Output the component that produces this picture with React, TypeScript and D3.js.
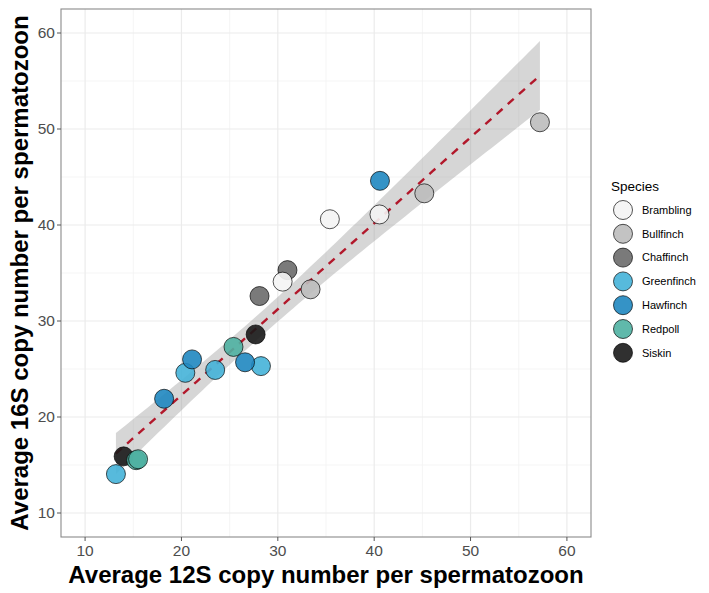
import React from 'react';
import * as d3 from 'd3';

// species order used by the legend and colour scale
const species = ['Brambling', 'Bullfinch', 'Chaffinch', 'Greenfinch', 'Hawfinch', 'Redpoll', 'Siskin'];
const speciesColors = ['#F4F4F4', '#BDBDBD', '#6B6B6B', '#45B2D8', '#1F87C0', '#4FB1A2', '#1A1A1A'];

// per-sample averages: 12S (x) and 16S (y) copy numbers
const sampleSpecies = [
  'Greenfinch', 'Greenfinch', 'Greenfinch', 'Greenfinch',
  'Siskin', 'Siskin',
  'Redpoll', 'Redpoll', 'Redpoll',
  'Hawfinch', 'Hawfinch', 'Hawfinch', 'Hawfinch',
  'Chaffinch', 'Chaffinch',
  'Brambling', 'Brambling', 'Brambling',
  'Bullfinch', 'Bullfinch', 'Bullfinch',
];
const copies12S = [13.2, 20.4, 23.5, 28.25, 14.0, 27.7, 15.3, 15.5, 25.4, 18.2, 21.1, 26.6, 40.6, 28.1, 31.0, 30.5, 35.4, 40.55, 33.4, 45.2, 57.2];
const copies16S = [14.05, 24.6, 24.9, 25.3, 15.9, 28.6, 15.5, 15.6, 27.3, 21.9, 26.0, 25.7, 44.6, 32.6, 35.3, 34.1, 40.6, 41.1, 33.3, 43.3, 50.7];

const ticks = [10, 20, 30, 40, 50, 60];
const minorTicks = [15, 25, 35, 45, 55];

const FONT = '"Liberation Sans", Arial, Helvetica, sans-serif';

// log-gamma (Lanczos), used by the t density below
function lgamma(z: number): number {
  const g = 7;
  const p = [0.99999999999980993, 676.5203681218851, -1259.1392167224028, 771.32342877765313,
    -176.61502916214059, 12.507343278686905, -0.13857109526572012, 9.9843695780195716e-6, 1.5056327351493116e-7];
  if (z < 0.5) return Math.log(Math.PI / Math.sin(Math.PI * z)) - lgamma(1 - z);
  z -= 1;
  let a = p[0];
  const t = z + g + 0.5;
  for (let i = 1; i < g + 2; i++) a += p[i] / (z + i);
  return 0.5 * Math.log(2 * Math.PI) + (z + 0.5) * Math.log(t) - t + Math.log(a);
}

// 97.5% quantile of Student's t, by bisection on a Simpson-integrated cdf
function tQuantile975(df: number): number {
  const c = Math.exp(lgamma((df + 1) / 2) - lgamma(df / 2)) / Math.sqrt(df * Math.PI);
  const cdf = (t: number) => {
    const n = 2000;
    const h = t / n;
    let s = 0;
    for (let i = 0; i <= n; i++) {
      const x = i * h;
      const w = i === 0 || i === n ? 1 : i % 2 ? 4 : 2;
      s += w * c * Math.pow(1 + (x * x) / df, -(df + 1) / 2);
    }
    return 0.5 + (s * h) / 3;
  };
  let lo = 0, hi = 10;
  for (let k = 0; k < 60; k++) {
    const mid = (lo + hi) / 2;
    if (cdf(mid) < 0.975) lo = mid; else hi = mid;
  }
  return (lo + hi) / 2;
}

export default function App() {
  const width = 709;
  const height = 593;
  const m = { left: 61, right: 118, top: 9, bottom: 56 };
  const x0 = m.left, x1 = width - m.right;
  const y0 = m.top, y1 = height - m.bottom;

  const xScale = d3.scaleLinear().domain([7.5, 62.5]).range([x0, x1]);
  const yScale = d3.scaleLinear().domain([7.5, 62.5]).range([y1, y0]);
  const color = d3.scaleOrdinal<string, string>().domain(species).range(speciesColors);

  const pts = copies12S.map((x, i) => ({ x, y: copies16S[i], sp: sampleSpecies[i] }));

  // linear fit with 95% confidence band
  const n = pts.length;
  const mx = d3.mean(pts, (d) => d.x)!;
  const my = d3.mean(pts, (d) => d.y)!;
  const sxx = d3.sum(pts, (d) => (d.x - mx) ** 2);
  const sxy = d3.sum(pts, (d) => (d.x - mx) * (d.y - my));
  const slope = sxy / sxx;
  const intercept = my - slope * mx;
  const rss = d3.sum(pts, (d) => (d.y - intercept - slope * d.x) ** 2);
  const se = Math.sqrt(rss / (n - 2));
  const tq = tQuantile975(n - 2);
  const [xmin, xmax] = d3.extent(pts, (d) => d.x) as [number, number];
  const fit = d3.range(80).map((i) => {
    const x = xmin + ((xmax - xmin) * i) / 79;
    const yhat = intercept + slope * x;
    const hw = tq * se * Math.sqrt(1 / n + (x - mx) ** 2 / sxx);
    return { x, yhat, lo: yhat - hw, hi: yhat + hw };
  });
  const band = d3.area<typeof fit[0]>().x((d) => xScale(d.x)).y0((d) => yScale(d.lo)).y1((d) => yScale(d.hi));
  const line = d3.line<typeof fit[0]>().x((d) => xScale(d.x)).y((d) => yScale(d.yhat));

  const r = 9.5;
  const legendX = 623;
  const legendY0 = 210;
  const legendStep = 23.8;

  return (
    <svg width={width} height={height} style={{ position: 'absolute', left: 0, top: 0, background: '#fff' }} fontFamily={FONT}>
      {/* grid */}
      {minorTicks.map((t) => (
        <g key={'mn' + t}>
          <line x1={xScale(t)} x2={xScale(t)} y1={y0} y2={y1} stroke="#F2F2F2" strokeWidth={0.8} />
          <line x1={x0} x2={x1} y1={yScale(t)} y2={yScale(t)} stroke="#F2F2F2" strokeWidth={0.8} />
        </g>
      ))}
      {ticks.map((t) => (
        <g key={'mj' + t}>
          <line x1={xScale(t)} x2={xScale(t)} y1={y0} y2={y1} stroke="#EBEBEB" strokeWidth={1.2} />
          <line x1={x0} x2={x1} y1={yScale(t)} y2={yScale(t)} stroke="#EBEBEB" strokeWidth={1.2} />
        </g>
      ))}

      {/* smoother */}
      <path d={band(fit)!} fill="#999999" fillOpacity={0.4} />
      <path d={line(fit)!} fill="none" stroke="#B2182B" strokeWidth={2.4} strokeDasharray="8,7" />

      {/* points */}
      {pts.map((d, i) => (
        <circle key={i} cx={xScale(d.x)} cy={yScale(d.y)} r={r} fill={color(d.sp)} fillOpacity={0.9}
          stroke="#000" strokeOpacity={0.75} strokeWidth={0.9} />
      ))}

      {/* panel border */}
      <rect x={x0} y={y0} width={x1 - x0} height={y1 - y0} fill="none" stroke="#8A8A8A" strokeWidth={1.1} />

      {/* axes */}
      {ticks.map((t) => (
        <g key={'xt' + t}>
          <line x1={xScale(t)} x2={xScale(t)} y1={y1} y2={y1 + 4} stroke="#555" />
          <text x={xScale(t)} y={y1 + 19} textAnchor="middle" fontSize={15.5} fill="#4D4D4D">{t}</text>
        </g>
      ))}
      {ticks.map((t) => (
        <g key={'yt' + t}>
          <line x1={x0 - 4} x2={x0} y1={yScale(t)} y2={yScale(t)} stroke="#555" />
          <text x={x0 - 6} y={yScale(t)} dy="0.35em" textAnchor="end" fontSize={15.5} fill="#4D4D4D">{t}</text>
        </g>
      ))}
      <text x={(x0 + x1) / 2} y={583} textAnchor="middle" fontSize={24} fontWeight="bold" fill="#000">
        Average 12S copy number per spermatozoon
      </text>
      <text transform={`translate(28,${(y0 + y1) / 2}) rotate(-90)`} textAnchor="middle" fontSize={24} fontWeight="bold" fill="#000">
        Average 16S copy number per spermatozoon
      </text>

      {/* legend */}
      <text x={611} y={191} fontSize={13.5} fill="#000">Species</text>
      {species.map((s, i) => (
        <g key={s}>
          <circle cx={legendX} cy={legendY0 + i * legendStep} r={r} fill={color(s)} fillOpacity={0.9}
            stroke="#000" strokeOpacity={0.75} strokeWidth={0.9} />
          <text x={642} y={legendY0 + i * legendStep} dy="0.35em" fontSize={11} fill="#000">{s}</text>
        </g>
      ))}
    </svg>
  );
}
